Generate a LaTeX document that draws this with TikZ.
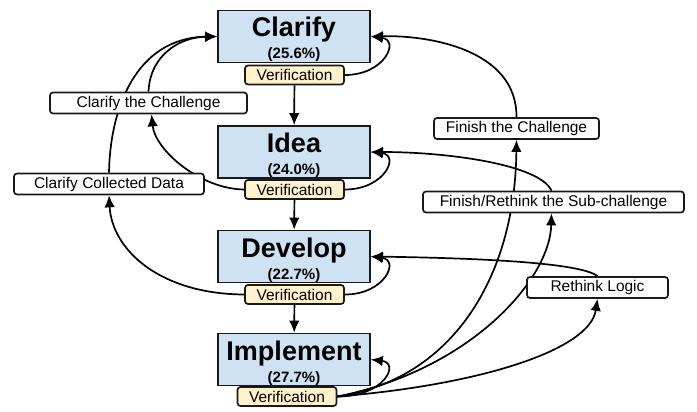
\documentclass[tikz,border=0pt]{standalone}
\usepackage{fontspec}
\setmainfont{Liberation Sans}
\usepackage{tikz}
\usetikzlibrary{arrows.meta,backgrounds}
\definecolor{stageblue}{RGB}{207,226,243}
\definecolor{verifyellow}{RGB}{255,242,204}
\tikzset{
	stage/.style={draw=black!90, line width=1.7pt, fill=stageblue, minimum width=152pt, minimum height=52pt, inner sep=0pt, text height=48pt, text depth=3pt, align=center, font=\bfseries\fontsize{15}{22}\selectfont},
	verif/.style={draw=black!90, line width=1.7pt, fill=verifyellow, rounded corners=3pt, minimum width=99pt, minimum height=19pt, inner sep=0pt, font=\fontsize{15.5}{18}\selectfont},
	reason/.style={draw=black!90, line width=1.7pt, fill=white, rounded corners=3pt, minimum height=21pt, inner sep=0pt, font=\fontsize{15.5}{18}\selectfont},
	flow/.style={line width=1.7pt, -{Latex[length=12pt,width=10.5pt]}}
}

\begin{document}
\begin{tikzpicture}[x=1pt,y=-1pt]
	\useasboundingbox (0,0) rectangle (697,412);
	\node[stage] (clarify) at (294,36.5) {{\fontsize{27}{27}\selectfont Clarify}\\(25.6\%)};
	\node[stage] (idea) at (294,152) {{\fontsize{27}{27}\selectfont Idea}\\(24.0\%)};
	\node[stage] (develop) at (294,256.5) {{\fontsize{27}{27}\selectfont Develop}\\(22.7\%)};
	\node[stage] (implement) at (294,359.5) {{\fontsize{27}{27}\selectfont Implement}\\(27.7\%)};
	\node[verif] (clarifyver) at (294.5,75) {Verification};
	\node[verif] (ideaver) at (294.5,189.5) {Verification};
	\node[verif] (developver) at (294.5,294.5) {Verification};
	\node[verif] (implementver) at (287,396.5) {Verification};
	\node[reason, minimum width=197pt] (challenge) at (148.5,103) {Clarify the Challenge};
	\node[reason, minimum width=190pt] (data) at (109,184) {Clarify Collected Data};
	\node[reason, minimum width=165pt] (finish) at (516.5,128.5) {Finish the Challenge};
	\node[reason, minimum width=261pt] (subchallenge) at (553.5,202) {Finish/Rethink the Sub-challenge};
	\node[reason, minimum width=141pt] (logic) at (597.5,287.5) {Rethink Logic};
	\begin{pgfonlayer}{background}
		\draw[flow] (clarifyver) -- (idea);
		\draw[flow] (ideaver) -- (develop);
		\draw[flow] (developver) -- (implement);
		\draw[flow] (clarifyver.east) .. controls (385,75) and (400,40) .. (clarify.east);
		\draw[flow] (ideaver.east) .. controls (385,189.5) and (400,155) .. (idea.east);
		\draw[flow] (developver.east) .. controls (385,294.5) and (400,260) .. (develop.east);
		\draw[flow] (implementver.east) .. controls (385,396.5) and (400,363) .. (implement.east);
		\draw[flow] (data.north) .. controls (110,110) and (135,38) .. (clarify.west);
		\draw[flow] (challenge.north) .. controls (150,55) and (180,37) .. (clarify.west);
		\draw[flow] (ideaver.west) .. controls (200,189) and (155,150) .. ([xshift=3pt]challenge.south);
		\draw[flow] (developver.west) .. controls (160,294) and (112,250) .. (data.south);
		\draw[flow] (finish.north) .. controls (517,50) and (430,35) .. (clarify.east);
		\draw[flow] ([xshift=-2pt]subchallenge.north) .. controls (540,165) and (450,152) .. (idea.east);
		\draw[flow] (implementver.east) .. controls (450,380) and (515,280) .. (finish.south);
		\draw[flow] (implementver.east) .. controls (470,370) and (550,280) .. ([xshift=-2pt]subchallenge.south);
		\draw[flow] (logic.north) .. controls (580,262) and (470,258) .. (develop.east);
		\draw[flow] (implementver.east) .. controls (480,385) and (590,350) .. (logic.south);
	\end{pgfonlayer}
\end{tikzpicture}
\end{document}
